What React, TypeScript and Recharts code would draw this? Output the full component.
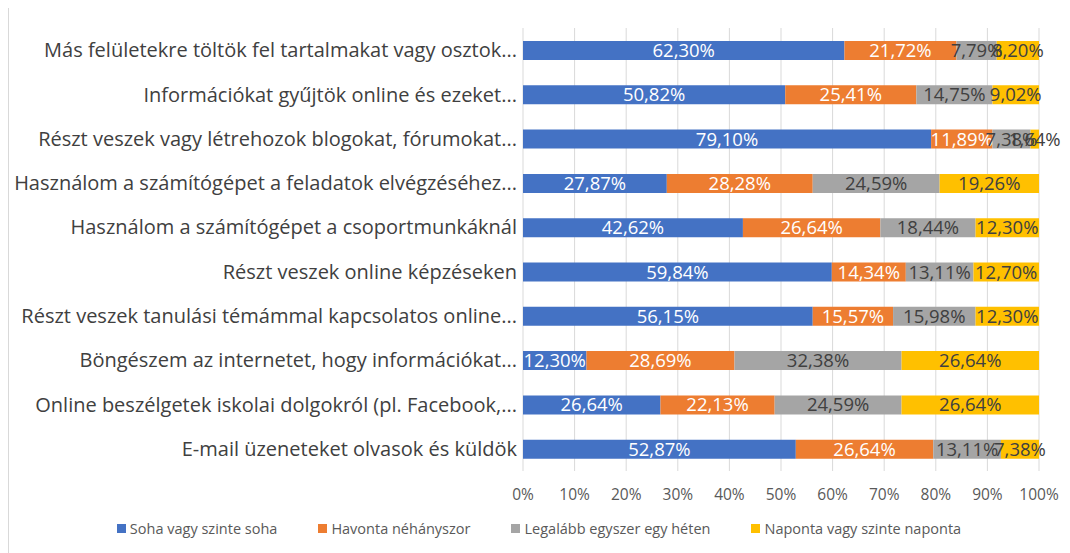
import React from "react";
import { BarChart, Bar, XAxis, YAxis, CartesianGrid, LabelList, Legend } from "recharts";

const categories = [
  "Más felületekre töltök fel tartalmakat vagy osztok...",
  "Információkat gyűjtök online és ezeket...",
  "Részt veszek vagy létrehozok blogokat, fórumokat...",
  "Használom a számítógépet a feladatok elvégzéséhez...",
  "Használom a számítógépet a csoportmunkáknál",
  "Részt veszek online képzéseken",
  "Részt veszek tanulási témámmal kapcsolatos online...",
  "Böngészem az internetet, hogy információkat...",
  "Online beszélgetek iskolai dolgokról (pl. Facebook,...",
  "E-mail üzeneteket olvasok és küldök",
];

const soha = [62.3, 50.82, 79.1, 27.87, 42.62, 59.84, 56.15, 12.3, 26.64, 52.87];
const havonta = [21.72, 25.41, 11.89, 28.28, 26.64, 14.34, 15.57, 28.69, 22.13, 26.64];
const hetente = [7.79, 14.75, 7.38, 24.59, 18.44, 13.11, 15.98, 32.38, 24.59, 13.11];
const naponta = [8.2, 9.02, 1.64, 19.26, 12.3, 12.7, 12.3, 26.64, 26.64, 7.38];

const xTicks = [0, 0.1, 0.2, 0.3, 0.4, 0.5, 0.6, 0.7, 0.8, 0.9, 1];

const series = [
  { key: "soha", name: "Soha vagy szinte soha", color: "#4472C4", text: "#ffffff" },
  { key: "havonta", name: "Havonta néhányszor", color: "#ED7D31", text: "#ffffff" },
  { key: "hetente", name: "Legalább egyszer egy héten", color: "#A5A5A5", text: "#404040" },
  { key: "naponta", name: "Naponta vagy szinte naponta", color: "#FFC000", text: "#404040" },
];

const data = categories.map((name, i) => ({
  name,
  soha: soha[i],
  havonta: havonta[i],
  hetente: hetente[i],
  naponta: naponta[i],
}));

const FONT = "'Open Sans', 'Noto Sans', sans-serif";

const fmt = (v: any) => Number(v).toFixed(2).replace(".", ",") + "%";

function LegendContent() {
  return (
    <div style={{ display: "flex", justifyContent: "center", gap: 41, fontFamily: FONT, fontSize: 14.5, color: "#595959", paddingLeft: 30 }}>
      {series.map((s) => (
        <div key={s.key} style={{ display: "flex", alignItems: "center" }}>
          <span style={{ width: 9, height: 9, background: s.color, display: "inline-block", marginRight: 4 }} />
          <span>{s.name}</span>
        </div>
      ))}
    </div>
  );
}

export default function App() {
  return (
    <div
      style={{
        marginLeft: -1,
        marginTop: -2,
        width: 1058,
        borderTop: "2px solid #d9d9d9",
        borderLeft: "2px solid #d9d9d9",
        background: "#fff",
      }}
    >
      <BarChart
        width={1056}
        height={546}
        data={data}
        layout="vertical"
        stackOffset="expand"
        barSize={19}
        margin={{ top: 20, right: 26, left: 0, bottom: 11 }}
      >
        <CartesianGrid horizontal={false} stroke="#d9d9d9" />
        <XAxis
          type="number"
          domain={[0, 1]}
          ticks={xTicks}
          tickFormatter={(v) => `${Math.round(v * 100)}%`}
          axisLine={false}
          tickLine={false}
          tickSize={0}
          tickMargin={18}
          height={48}
          tick={{ fill: "#595959", fontSize: 15.5, fontFamily: FONT }}
        />
        <YAxis
          type="category"
          dataKey="name"
          width={514}
          axisLine={false}
          tickLine={false}
          tickSize={0}
          tickMargin={6}
          interval={0}
          tick={{ fill: "#404040", fontSize: 20, fontFamily: FONT }}
        />
        <Legend verticalAlign="bottom" content={<LegendContent />} height={24} />
        {series.map((s) => (
          <Bar key={s.key} dataKey={s.key} name={s.name} stackId="a" fill={s.color} isAnimationActive={false}>
            <LabelList
              dataKey={s.key}
              position="center"
              formatter={fmt}
              fill={s.text}
              style={{ fontSize: 18.5, fontFamily: FONT }}
            />
          </Bar>
        ))}
      </BarChart>
    </div>
  );
}
